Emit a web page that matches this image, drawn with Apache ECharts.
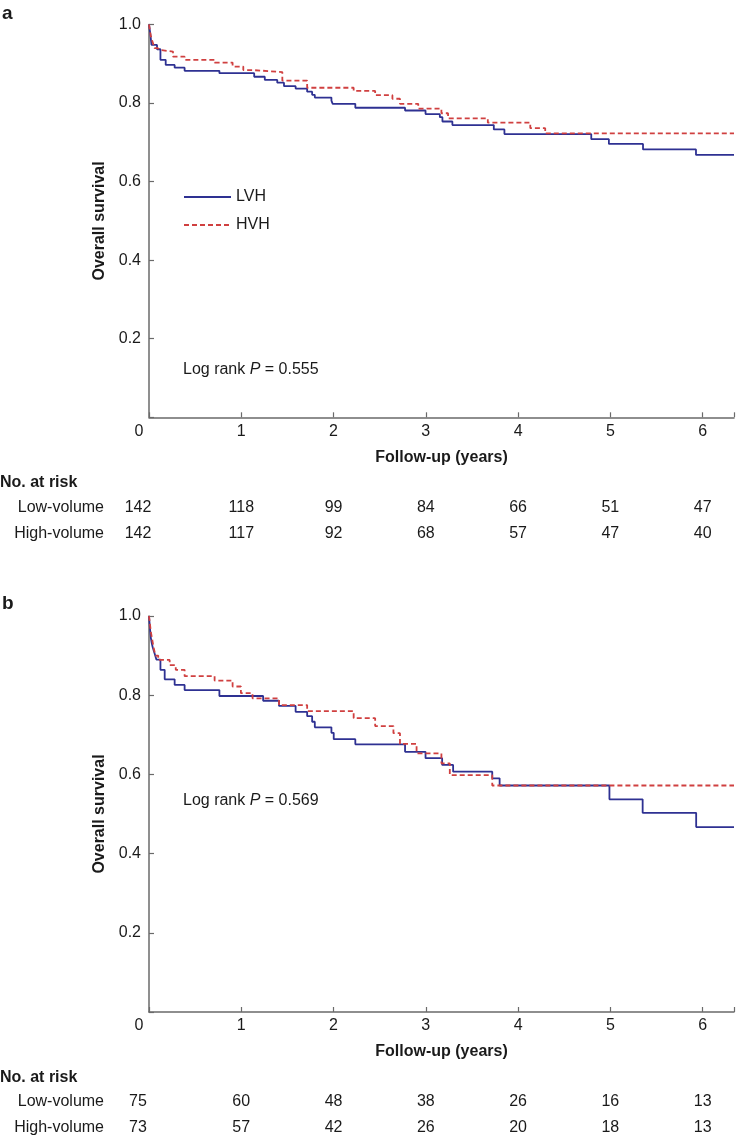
<!DOCTYPE html>
<html>
<head>
<meta charset="utf-8">
<script src="https://cdn.jsdelivr.net/npm/echarts@6/dist/echarts.min.js"></script>
<style>
html,body{margin:0;padding:0;background:#fff;}
#c{width:737px;height:1136px;}
</style>
</head>
<body>
<div id="c"></div>
<script>
// ---------- data ----------
const xTicks = [0, 1, 2, 3, 4, 5, 6];
const yTicks = [0, 0.2, 0.4, 0.6, 0.8, 1.0];

// Panel a
const aLVH = [[0,1],[0.015,0.975],[0.027,0.948],[0.087,0.937],[0.124,0.910],[0.181,0.897],[0.278,0.890],[0.386,0.882],[0.763,0.876],[1.14,0.867],[1.255,0.859],[1.39,0.852],[1.463,0.843],[1.589,0.837],[1.714,0.829],[1.768,0.821],[1.797,0.814],[1.977,0.806],[1.991,0.798],[2.236,0.788],[2.775,0.781],[2.997,0.772],[3.152,0.764],[3.18,0.753],[3.288,0.744],[3.737,0.733],[3.852,0.721],[4.793,0.708],[4.984,0.696],[5.354,0.682],[5.928,0.668],[6.34,0.668]];
const aHVH = [[0,1],[0.01,0.985],[0.02,0.97],[0.04,0.955],[0.06,0.94],[0.09,0.935],[0.124,0.931],[0.26,0.918],[0.386,0.910],[0.711,0.903],[0.906,0.893],[1.022,0.884],[1.122,0.879],[1.445,0.857],[1.714,0.839],[2.218,0.831],[2.451,0.820],[2.638,0.811],[2.72,0.798],[2.918,0.786],[3.169,0.774],[3.241,0.761],[3.672,0.750],[4.132,0.736],[4.294,0.723],[6.34,0.723]];
const aRiskLow = [142, 118, 99, 84, 66, 51, 47];
const aRiskHigh = [142, 117, 92, 68, 57, 47, 40];
const aLogRank = '0.555';

// Panel b
const bLVH = [[0,1],[0.01,0.97],[0.02,0.945],[0.03,0.931],[0.04,0.921],[0.06,0.906],[0.08,0.89],[0.124,0.864],[0.17,0.84],[0.278,0.826],[0.386,0.813],[0.763,0.798],[1.237,0.786],[1.409,0.773],[1.589,0.758],[1.714,0.747],[1.768,0.733],[1.797,0.719],[1.977,0.705],[2.002,0.689],[2.236,0.676],[2.775,0.657],[2.997,0.641],[3.177,0.624],[3.296,0.607],[3.72,0.59],[3.8,0.572],[4.99,0.537],[5.35,0.503],[5.93,0.467],[6.34,0.467]];
const bHVH = [[0,1],[0.01,0.98],[0.02,0.96],[0.035,0.94],[0.05,0.92],[0.07,0.9],[0.1,0.889],[0.224,0.876],[0.29,0.864],[0.386,0.848],[0.711,0.837],[0.906,0.822],[0.996,0.805],[1.122,0.792],[1.409,0.775],[1.714,0.760],[2.218,0.742],[2.451,0.722],[2.649,0.704],[2.72,0.677],[2.9,0.653],[3.169,0.628],[3.26,0.598],[3.72,0.572],[6.34,0.572]];
const bRiskLow = [75, 60, 48, 38, 26, 16, 13];
const bRiskHigh = [73, 57, 42, 26, 20, 18, 13];
const bLogRank = '0.569';

const seriesNames = ['LVH', 'HVH'];
const riskRowNames = ['Low-volume', 'High-volume'];

// ---------- style ----------
const FONT = 'Liberation Sans, Arial, Helvetica, sans-serif';
const TXT = '#1a1a1a';
const AX = '#6a6a6a';
const BLUE = '#2e3192';
const RED = '#d04040';
const XMAX = 6.34;

const grids = [
  {left: 149, top: 24.5, width: 588, height: 392.8},
  {left: 149, top: 616, width: 588, height: 396}
];

function isTick(v){ return Math.abs(v - Math.round(v)) < 1e-6 && xTicks.indexOf(Math.round(v)) >= 0; }

const richZ = {z: {padding: [0, 20, 0, 0], fontSize: 16, fontFamily: FONT, color: TXT}};

function mainX(gi){
  return {
    gridIndex: gi, type: 'value', min: 0, max: XMAX, interval: 1,
    position: 'bottom',
    axisLine: {show: true, onZero: false, lineStyle: {color: AX, width: 1.5}},
    axisTick: {show: true, inside: true, length: 5, lineStyle: {color: AX, width: 1.2}},
    splitLine: {show: false},
    axisLabel: {
      fontSize: 16, fontFamily: FONT, color: TXT, margin: 6, showMaxLabel: true,
      formatter: v => !isTick(v) ? '' : (Math.round(v) === 0 ? '{z|0}' : String(Math.round(v))),
      rich: richZ
    },
    name: 'Follow-up (years)', nameLocation: 'middle', nameGap: 32,
    nameTextStyle: {fontSize: 16, fontWeight: 'bold', fontFamily: FONT, color: TXT}
  };
}
function riskX(gi, arr, name, offset){
  return {
    gridIndex: gi, type: 'value', min: 0, max: XMAX, interval: 1,
    position: 'bottom', offset: offset,
    axisLine: {show: false, onZero: false}, axisTick: {show: false}, splitLine: {show: false},
    axisLabel: {
      fontSize: 16, fontFamily: FONT, color: TXT, margin: 0, verticalAlign: 'middle',
      formatter: v => {
        if (!isTick(v)) return '';
        const i = xTicks.indexOf(Math.round(v));
        return i === 0 ? '{z|' + arr[i] + '}' : String(arr[i]);
      },
      rich: {z: {padding: [0, 22, 0, 0], fontSize: 16, fontFamily: FONT, color: TXT}}
    },
    name: name, nameLocation: 'start', nameGap: 45,
    nameTextStyle: {fontSize: 16, fontFamily: FONT, color: TXT, align: 'right', verticalAlign: 'middle'}
  };
}
function mainY(gi){
  return {
    gridIndex: gi, type: 'value', min: yTicks[0], max: yTicks[yTicks.length-1], interval: 0.2,
    axisLine: {show: true, onZero: false, lineStyle: {color: AX, width: 1.5}},
    axisTick: {show: true, inside: true, length: 5, lineStyle: {color: AX, width: 1.2}},
    splitLine: {show: false},
    axisLabel: {fontSize: 16, fontFamily: FONT, color: TXT, margin: 8,
      formatter: v => v === 0 ? '' : v.toFixed(1)},
    name: 'Overall survival', nameLocation: 'middle', nameGap: 40,
    nameTextStyle: {fontSize: 16, fontWeight: 'bold', fontFamily: FONT, color: TXT}
  };
}
function kmSeries(name, data, xi, yi, color, dashed){
  return {
    name: name, type: 'line', step: 'end', xAxisIndex: xi, yAxisIndex: yi,
    data: data, symbol: 'none', showSymbol: false, animation: false,
    lineStyle: {color: color, width: 1.8, type: dashed ? [5, 3] : 'solid'},
    itemStyle: {color: color}
  };
}
function txt(left, top, text, bold, size, rich){
  return {type: 'text', left: left, top: top, silent: true,
    style: {text: text, fontSize: size || 16, fontWeight: bold ? 'bold' : 'normal',
      fontFamily: FONT, fill: TXT, rich: rich}};
}
const pRich = {i: {fontStyle: 'italic', fontSize: 16, fontFamily: FONT, fill: TXT, color: TXT}};

const option = {
  backgroundColor: '#fff',
  animation: false,
  grid: grids,
  xAxis: [
    mainX(0),
    riskX(0, aRiskLow, riskRowNames[0], 90),
    riskX(0, aRiskHigh, riskRowNames[1], 116),
    mainX(1),
    riskX(1, bRiskLow, riskRowNames[0], 90),
    riskX(1, bRiskHigh, riskRowNames[1], 116)
  ],
  yAxis: [mainY(0), mainY(1)],
  legend: {
    data: seriesNames, orient: 'vertical', left: 183, top: 189, padding: 0,
    itemWidth: 47, itemHeight: 16, itemGap: 12,
    itemStyle: {opacity: 0, borderWidth: 0},
    textStyle: {fontSize: 16, fontFamily: FONT, color: TXT}
  },
  series: [
    kmSeries(seriesNames[0], aLVH, 0, 0, BLUE, false),
    kmSeries(seriesNames[1], aHVH, 0, 0, RED, true),
    kmSeries(seriesNames[0], bLVH, 3, 1, BLUE, false),
    kmSeries(seriesNames[1], bHVH, 3, 1, RED, true)
  ],
  graphic: [
    txt(2, 4, 'a', true, 19),
    txt(2, 594, 'b', true, 19),
    txt(0, 475, 'No. at risk', true, 16),
    txt(0, 1070, 'No. at risk', true, 16),
    txt(183, 362, 'Log rank {i|P} = ' + aLogRank, false, 16, pRich),
    txt(183, 793, 'Log rank {i|P} = ' + bLogRank, false, 16, pRich)
  ]
};

const chart = echarts.init(document.getElementById('c'), null, {renderer: 'canvas'});
chart.setOption(option);
</script>
</body>
</html>
